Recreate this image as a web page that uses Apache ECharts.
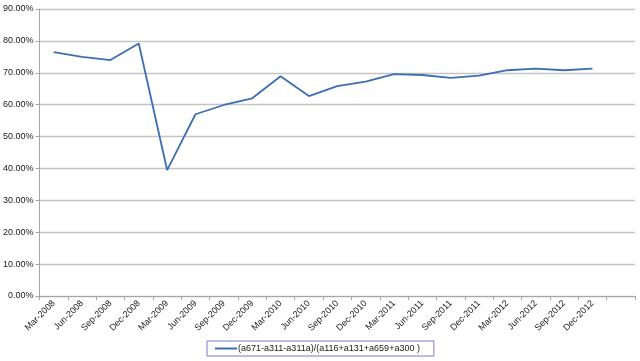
<!DOCTYPE html>
<html>
<head>
<meta charset="utf-8">
<script src="https://cdn.jsdelivr.net/npm/echarts@6/dist/echarts.min.js"></script>
<style>html,body{margin:0;padding:0;background:#fff;}#c{width:640px;height:361px;}</style>
</head>
<body>
<div id="c"></div>
<script>
const categories = ["Mar-2008","Jun-2008","Sep-2008","Dec-2008","Mar-2009","Jun-2009","Sep-2009","Dec-2009","Mar-2010","Jun-2010","Sep-2010","Dec-2010","Mar-2011","Jun-2011","Sep-2011","Dec-2011","Mar-2012","Jun-2012","Sep-2012","Dec-2012",""];
const seriesName = "(a671-a311-a311a)/(a116+a131+a659+a300 )";
const values = [0.765,0.750,0.740,0.792,0.395,0.570,0.599,0.620,0.689,0.627,0.658,0.672,0.696,0.693,0.684,0.691,0.708,0.713,0.708,0.713,null];
const yTicks = {min:0, max:0.9, interval:0.1};

const chart = echarts.init(document.getElementById('c'), null, {renderer:'canvas'});
chart.setOption({
  animation:false,
  backgroundColor:'#ffffff',
  grid:{left:39, right:5, top:9, bottom:65},
  xAxis:{
    type:'category', data:categories, boundaryGap:true,
    axisLine:{lineStyle:{color:'#a6a6a6', width:1}},
    axisTick:{show:true, alignWithLabel:false, length:4, lineStyle:{color:'#a6a6a6'}},
    axisLabel:{rotate:45, fontSize:9, color:'#1a1a1a', fontFamily:'Liberation Sans, Arial', margin:6, interval:0}
  },
  yAxis:{
    type:'value', min:yTicks.min, max:yTicks.max, interval:yTicks.interval,
    axisLine:{show:true, lineStyle:{color:'#a6a6a6'}},
    axisTick:{show:true, length:4, lineStyle:{color:'#a6a6a6'}},
    splitLine:{lineStyle:{color:'#c4c4c4', width:1.3}},
    axisLabel:{fontSize:9, color:'#1a1a1a', fontFamily:'Liberation Sans, Arial', margin:6,
      formatter:v=>(v*100).toFixed(2)+'%'}
  },
  legend:{
    left:207, top:341, padding:[3,14,3,8],
    borderColor:'#7a7ac8', borderWidth:1,
    itemWidth:22, itemHeight:2, itemGap:2,
    icon:'rect',
    textStyle:{fontSize:9, color:'#1a1a1a', fontFamily:'Liberation Sans, Arial', padding:[0,0,0,-4]},
    data:[seriesName]
  },
  series:[{
    name:seriesName, type:'line', data:values,
    showSymbol:false, symbol:'none',
    lineStyle:{color:'#3c6eb4', width:1.8},
    itemStyle:{color:'#3c6eb4'}
  }]
});
</script>
</body>
</html>
